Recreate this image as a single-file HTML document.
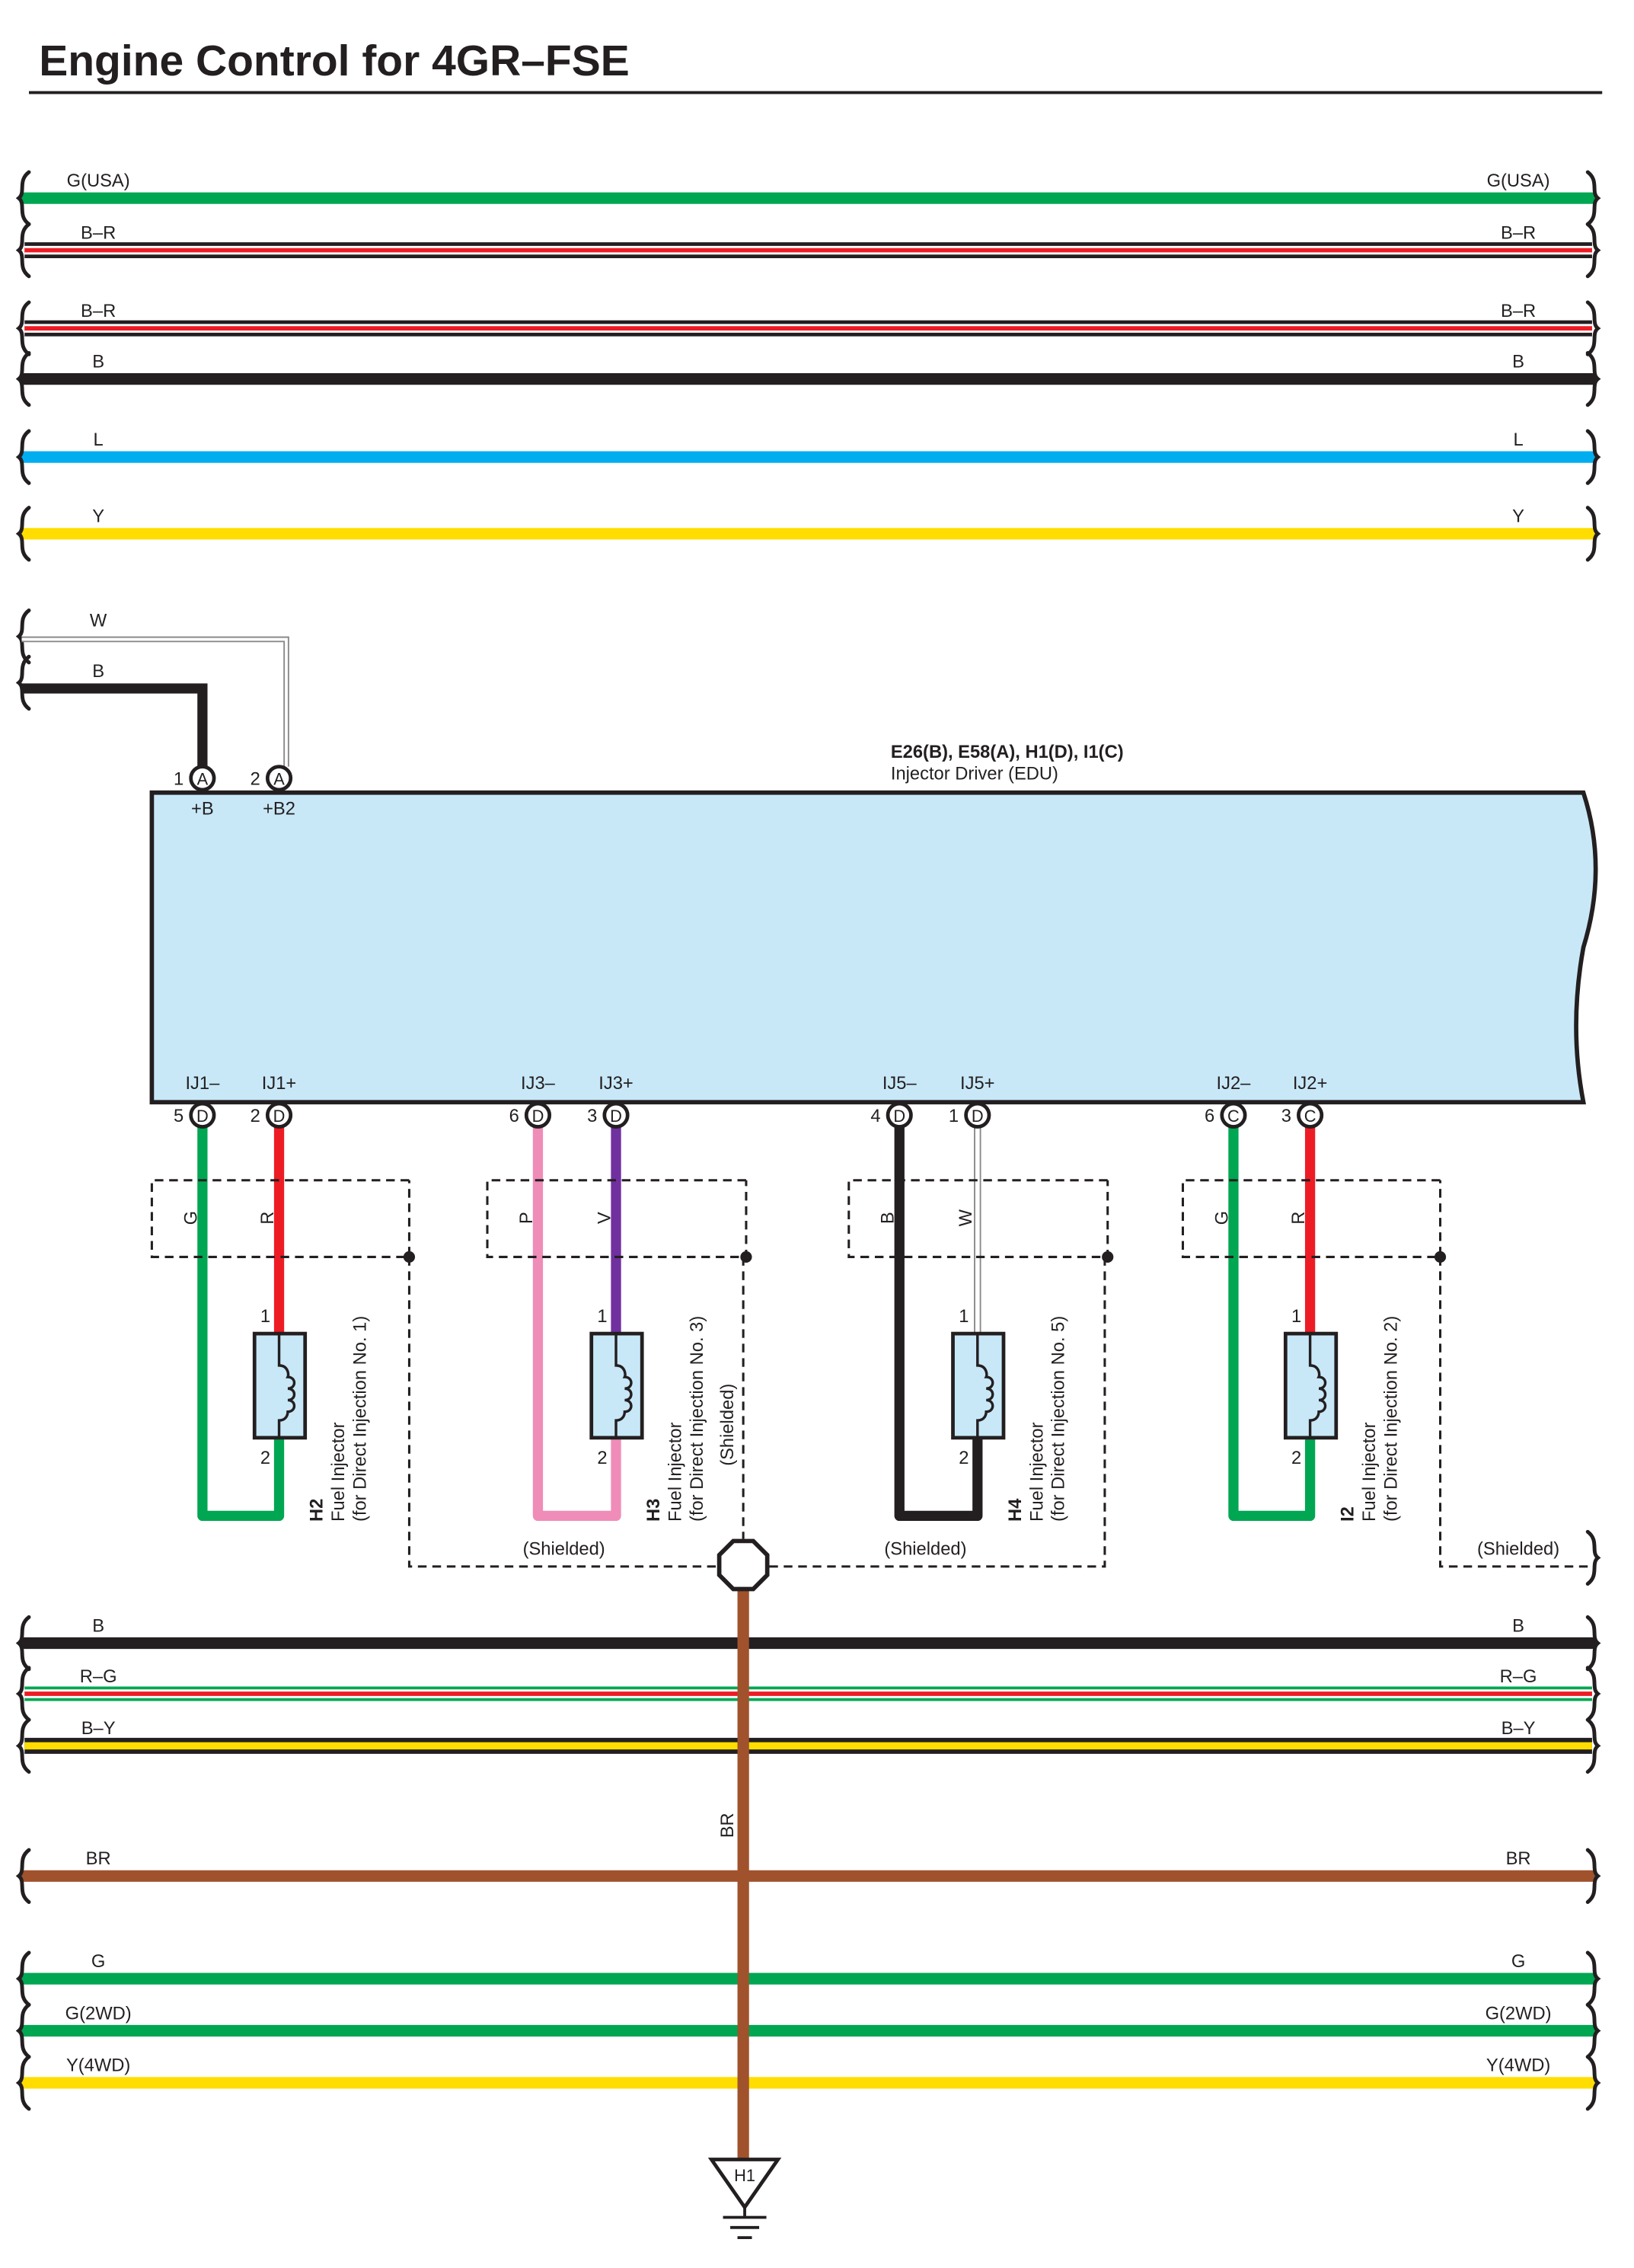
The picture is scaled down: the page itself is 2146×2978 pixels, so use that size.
<!DOCTYPE html>
<html><head><meta charset="utf-8"><style>
html,body{margin:0;padding:0;background:#fff}
svg{display:block}
text{font-family:"Liberation Sans",sans-serif;font-size:12.5px;fill:#231f20}
</style></head><body>
<svg id="s" width="2146" height="2978" viewBox="0 0 1130 1568" preserveAspectRatio="none" xmlns="http://www.w3.org/2000/svg"></svg>
<script>
var o='';
function L(x1,y1,x2,y2,c,w,extra){o+='<line x1="'+x1+'" y1="'+y1+'" x2="'+x2+'" y2="'+y2+'" stroke="'+c+'" stroke-width="'+w+'" '+(extra||'')+'/>';}
function P(d,c,w,extra,fill){o+='<path d="'+d+'" fill="'+(fill||'none')+'" stroke="'+c+'" stroke-width="'+w+'" '+(extra||'')+'/>';}
function T(x,y,s,extra){o+='<text x="'+x+'" y="'+y+'" '+(extra||'')+'>'+s+'</text>';}
function brace(x,y,dir){var d=dir;P('M'+(x+5*d)+','+(y-18)+' C'+(x-3*d)+','+(y-12)+' '+(x+3*d)+','+(y-4)+' '+(x-2*d)+','+y+' C'+(x+3*d)+','+(y+4)+' '+(x-3*d)+','+(y+12)+' '+(x+5*d)+','+(y+18),'#231f20',2.6,'stroke-linecap="round"');}
var G='#00a651',R='#ed1c24',K='#231f20',BL='#00aeef',Y='#ffdd00',BR='#a0522d',PK='#f08cb8',V='#7030a0';
function wire(y,lab,type,rl,col){
  var x1=17,x2=1101;
  if(type=='solid')L(x1,y,x2,y,col,8,'stroke-linecap="round"');
  else if(type=='BR'){L(x1,y,x2,y,K,11);L(x1,y,x2,y,'#fff',6);L(x1,y,x2,y,R,3);}
  else if(type=='RG'){L(x1,y,x2,y,G,10);L(x1,y,x2,y,'#fff',6);L(x1,y,x2,y,R,3);}
  else if(type=='BY'){L(x1,y,x2,y,K,11);L(x1,y,x2,y,Y,5);}
  brace(15,y,1);brace(1103,y,-1);
  T(68,y-8,lab,'text-anchor="middle"');T(1050,y-8,lab,'text-anchor="middle"');
}
wire(137,'G(USA)','solid',1,G);
wire(173,'B–R','BR');
wire(227,'B–R','BR');
wire(262,'B','solid',0,K);
wire(316,'L','solid',0,BL);
wire(369,'Y','solid',0,Y);
wire(1136,'B','solid',0,K);
wire(1171,'R–G','RG');
wire(1207,'B–Y','BY');
wire(1297,'BR','solid',0,BR);
wire(1368,'G','solid',0,G);
wire(1404,'G(2WD)','solid',1,G);
wire(1440,'Y(4WD)','solid',1,Y);
o+='<text x="27" y="52" style="font-size:30px;font-weight:bold">Engine Control for 4GR–FSE</text>';
L(20,64,1108,64,K,2);
brace(15,440,1);brace(15,472,1);
P('M15,442 H198 V530','#8a8a8a',4);P('M15,442 H198 V530','#fff',2);
T(68,433,'W','text-anchor="middle"');
P('M15,476 H140 V530',K,7);T(68,468,'B','text-anchor="middle"');
P('M105,548 H1095 Q1112,600 1095,655 Q1085,710 1095,762 H105 Z',K,3,'','#c8e8f8');
o+='<text x="616" y="524" style="font-weight:bold">E26(B), E58(A), H1(D), I1(C)</text>';
T(616,539,'Injector Driver (EDU)');
function conn(x,y,l,n){o+='<circle cx="'+x+'" cy="'+y+'" r="8" fill="#fff" stroke="'+K+'" stroke-width="2.5"/>';T(x,y+4.5,l,'text-anchor="middle" style="font-size:11.5px"');T(x-13,y+4.5,n,'text-anchor="end"');}
function inj(xl,xr,cl,cr,lab1,lab2,name,num){
  P('M'+xl+',778 V1048 H'+xr+' V994',cl,7,'stroke-linejoin="round"');
  if(cr=='W'){P('M'+xr+',778 V922','#8a8a8a',5);P('M'+xr+',778 V922','#fff',3);}
  else P('M'+xr+',778 V922',cr,7);
  var bx=xl-35,bx2=xr+90;
  P('M'+bx2+',816 H'+bx+' V869 H'+bx2+' V816',K,1.6,'stroke-dasharray="6,4"');
  o+='<circle cx="'+bx2+'" cy="869" r="4" fill="'+K+'"/>';
  o+='<rect x="'+(xr-17)+'" y="922" width="35" height="72" fill="#c8e8f8" stroke="'+K+'" stroke-width="2.5"/>';
  P('M'+xr+',922 V944 c6,0 7,6 6,8 c6,0 6,8 0,8 c6,0 6,8 0,8 c6,0 6,8 0,8 c0,2 -1,6 -6,6 V994',K,1.8);
  T(xr-6,914,'1','text-anchor="end"');T(xr-6,1012,'2','text-anchor="end"');
  T(xl-8,842,lab1,'transform="rotate(-90 '+(xl-8)+' 842)" text-anchor="middle" dy="4"');
  T(xr-8,842,lab2,'transform="rotate(-90 '+(xr-8)+' 842)" text-anchor="middle" dy="4"');
  var tx=xr+30;
  o+='<text transform="translate('+tx+',1052) rotate(-90)"><tspan style="font-weight:bold">'+name+'</tspan></text>';
  o+='<text transform="translate('+(tx+15)+',1052) rotate(-90)">Fuel Injector</text>';
  o+='<text transform="translate('+(tx+30)+',1052) rotate(-90)">(for Direct Injection No. '+num+')</text>';
}
inj(140,193,G,R,'G','R','H2','1');
inj(372,426,PK,V,'P','V','H3','3');
inj(622,676,K,'W','B','W','H4','5');
inj(853,906,G,R,'G','R','I2','2');
P('M283,869 V1083 H497',K,1.6,'stroke-dasharray="6,4"');
P('M514,869 V1064',K,1.6,'stroke-dasharray="6,4"');
P('M764,869 V1083 H532',K,1.6,'stroke-dasharray="6,4"');
P('M996,869 V1083 H1100',K,1.6,'stroke-dasharray="6,4"');
brace(1103,1077,-1);
T(390,1075,'(Shielded)','text-anchor="middle"');T(640,1075,'(Shielded)','text-anchor="middle"');T(1050,1075,'(Shielded)','text-anchor="middle"');
o+='<text transform="translate(507,985) rotate(-90)" text-anchor="middle">(Shielded)</text>';
L(514,1098,514,1496,BR,8);
o+='<text transform="translate(507,1262) rotate(-90)" text-anchor="middle">BR</text>';
var c=514,cy=1082,r=18,pts=[];for(var i=0;i<8;i++){var a=Math.PI/8+i*Math.PI/4;pts.push((c+r*Math.cos(a)).toFixed(1)+','+(cy+r*Math.sin(a)).toFixed(1));}
o+='<polygon points="'+pts.join(' ')+'" fill="#fff" stroke="'+K+'" stroke-width="3"/>';
o+='<polygon points="492,1493 538,1493 515,1526" fill="#fff" stroke="'+K+'" stroke-width="2.5"/>';
T(515,1508,'H1','text-anchor="middle" style="font-size:11.5px"');
L(515,1526,515,1533,K,2);L(500,1533,530,1533,K,2);L(505,1540,525,1540,K,2);L(510,1547,520,1547,K,2);
conn(140,538,'A','1');conn(193,538,'A','2');
T(140,563,'+B','text-anchor="middle"');T(193,563,'+B2','text-anchor="middle"');
var cs=[[140,'D','5','IJ1–'],[193,'D','2','IJ1+'],[372,'D','6','IJ3–'],[426,'D','3','IJ3+'],[622,'D','4','IJ5–'],[676,'D','1','IJ5+'],[853,'C','6','IJ2–'],[906,'C','3','IJ2+']];
cs.forEach(function(a){conn(a[0],771,a[1],a[2]);T(a[0],753,a[3],'text-anchor="middle"');});
document.getElementById('s').innerHTML=o;
</script>
</body></html>
